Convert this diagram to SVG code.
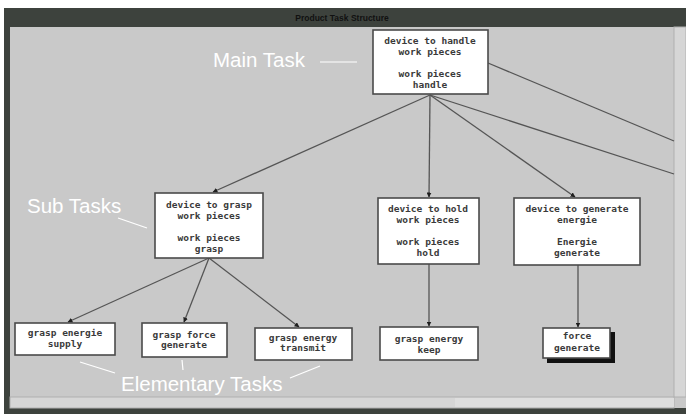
<svg xmlns="http://www.w3.org/2000/svg" width="686" height="414" viewBox="0 0 686 414">
<style>
.box{fill:#ffffff;stroke:#4a4a4a;stroke-width:1.6}
.t{font-family:"DejaVu Sans Mono","Liberation Mono",monospace;font-weight:bold;font-size:9.5px;fill:#3a3a3a;text-anchor:middle}
.con{stroke:#555555;stroke-width:1.3;fill:none;marker-end:url(#ah)}
.ann{font-family:"Liberation Sans",Arial,sans-serif;font-size:20.5px;fill:#ffffff}
.al{stroke:#ffffff;stroke-width:1.2;fill:none}
</style>
<defs>
<marker id="ah" viewBox="0 0 10 10" refX="9" refY="5" markerWidth="5" markerHeight="5" orient="auto" markerUnits="userSpaceOnUse">
<path d="M0,0 L10,5 L0,10 z" fill="#202020"/>
</marker>
</defs>
<rect x="0" y="0" width="686" height="414" fill="#ffffff"/>
<!-- window frame -->
<rect x="4" y="8" width="682" height="406" fill="#3d423d"/>
<rect x="10" y="27" width="676" height="381" fill="#c9c9c9"/>
<rect x="674" y="27" width="12" height="370" fill="#d6d6d6" stroke="#b0b0b0" stroke-width="1"/>
<rect x="10" y="397" width="664" height="11" fill="#d6d6d6" stroke="#b0b0b0" stroke-width="1"/>
<rect x="455" y="398" width="219" height="9" fill="#dedede"/>
<text x="342" y="21" font-family="Liberation Sans,Arial,sans-serif" font-weight="bold" font-size="8.5px" fill="#111" text-anchor="middle">Product Task Structure</text>

<g id="connectors">
<line class="con" x1="430" y1="95" x2="213" y2="192"/>
<line class="con" x1="430" y1="95" x2="429" y2="197"/>
<line class="con" x1="430" y1="95" x2="575" y2="197"/>
<line x1="430" y1="95" x2="674" y2="174" stroke="#555555" stroke-width="1.3"/>
<line x1="488" y1="63" x2="674" y2="141" stroke="#555555" stroke-width="1.3"/>
<line class="con" x1="209" y1="258" x2="68" y2="322"/>
<line class="con" x1="209" y1="258" x2="184" y2="322"/>
<line class="con" x1="209" y1="258" x2="299" y2="327"/>
<line class="con" x1="429" y1="264" x2="429" y2="326"/>
<line class="con" x1="578" y1="265" x2="578" y2="327"/>
</g>

<g id="main">
<rect class="box" x="373" y="30" width="115" height="64"/>
<text class="t" x="430" y="44">device to handle</text>
<text class="t" x="430" y="55">work pieces</text>
<text class="t" x="430" y="77">work pieces</text>
<text class="t" x="430" y="88">handle</text>
</g>

<g id="sub1">
<rect class="box" x="155" y="193" width="108" height="65"/>
<text class="t" x="209" y="208">device to grasp</text>
<text class="t" x="209" y="219">work pieces</text>
<text class="t" x="209" y="241">work pieces</text>
<text class="t" x="209" y="252">grasp</text>
</g>

<g id="sub2">
<rect class="box" x="378" y="198" width="101" height="66"/>
<text class="t" x="428" y="212">device to hold</text>
<text class="t" x="428" y="223">work pieces</text>
<text class="t" x="428" y="245">work pieces</text>
<text class="t" x="428" y="256">hold</text>
</g>

<g id="sub3">
<rect class="box" x="514" y="198" width="126" height="67"/>
<text class="t" x="577" y="212">device to generate</text>
<text class="t" x="577" y="223">energie</text>
<text class="t" x="577" y="245">Energie</text>
<text class="t" x="577" y="256">generate</text>
</g>

<g id="elem1">
<rect class="box" x="15" y="323" width="100" height="32"/>
<text class="t" x="65" y="336">grasp energie</text>
<text class="t" x="65" y="347">supply</text>
</g>

<g id="elem2">
<rect class="box" x="142" y="323" width="85" height="34"/>
<text class="t" x="184" y="338">grasp force</text>
<text class="t" x="184" y="348">generate</text>
</g>

<g id="elem3">
<rect class="box" x="255" y="328" width="97" height="32"/>
<text class="t" x="303" y="341">grasp energy</text>
<text class="t" x="303" y="351">transmit</text>
</g>

<g id="elem4">
<rect class="box" x="380" y="327" width="98" height="33"/>
<text class="t" x="429" y="342">grasp energy</text>
<text class="t" x="429" y="353">keep</text>
</g>

<g id="elem5">
<rect x="547" y="332" width="68" height="31" fill="#111"/>
<rect class="box" x="543" y="328" width="67" height="30"/>
<text class="t" x="577" y="339">force</text>
<text class="t" x="577" y="351">generate</text>
</g>

<g id="annotations">
<text class="ann" x="213" y="67">Main Task</text>
<line class="al" x1="320" y1="62" x2="357" y2="62"/>
<text class="ann" x="27" y="213">Sub Tasks</text>
<line class="al" x1="118" y1="218" x2="147" y2="228"/>
<text class="ann" x="121" y="391">Elementary Tasks</text>
<line class="al" x1="80" y1="362" x2="115" y2="373"/>
<line class="al" x1="182" y1="360" x2="183" y2="370"/>
<line class="al" x1="290" y1="378" x2="320" y2="366"/>
</g>
</svg>
